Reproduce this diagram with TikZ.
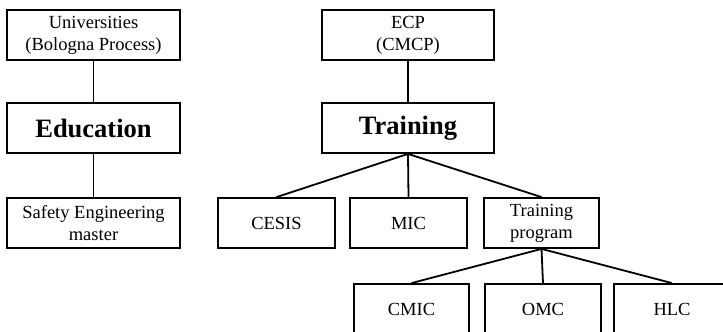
\documentclass[tikz,border=0pt]{standalone}
\usepackage{fontspec}
\setmainfont{Liberation Serif}
\begin{document}
\begin{tikzpicture}[x=1pt,y=-1pt,
  box/.style={draw, line width=1.8pt, minimum height=50pt, inner sep=0pt,
              align=center, font=\fontsize{18.5}{22}\selectfont},
  bigbox/.style={box, font=\fontsize{26.5}{30}\selectfont\bfseries},
  link/.style={line width=1.8pt}]
  \useasboundingbox (0,0) rectangle (723,332);
  \clip (0,0) rectangle (723,332);

  % education branch
  \node[box, minimum width=173pt] (uni) at (93.5,35) {Universities\\(Bologna Process)};
  \node[bigbox, minimum width=173pt] (edu) at (93.5,128) {Education};
  \node[box, minimum width=173pt] (safe) at (93.5,223) {Safety Engineering\\master};

  % training branch
  \node[box, minimum width=172pt] (ecp) at (408,35) {ECP\\(CMCP)};
  \node[bigbox, minimum width=172pt] (train) at (408,128) {Training};
  \node[box, minimum width=117pt] (cesis) at (276.5,223) {CESIS};
  \node[box, minimum width=117pt] (mic) at (408.5,223) {MIC};
  \node[box, minimum width=115pt] (prog) at (541.5,223) {Training\\program};

  % training programme courses
  \node[box, minimum width=115pt] (cmic) at (411.5,309) {CMIC};
  \node[box, minimum width=116pt] (omc) at (543,309) {OMC};
  \node[box, minimum width=116pt] (hlc) at (672,309) {HLC};

  % connectors
  \draw[link] (uni.south) -- (edu.north);
  \draw[link] (edu.south) -- (safe.north);
  \draw[link] (ecp.south) -- (train.north);
  \draw[link] (train.south) -- (cesis.north);
  \draw[link] (train.south) -- (mic.north);
  \draw[link] (train.south) -- (prog.north);
  \draw[link] (prog.south) -- (cmic.north);
  \draw[link] (prog.south) -- (omc.north);
  \draw[link] (prog.south) -- (hlc.north);
\end{tikzpicture}
\end{document}
